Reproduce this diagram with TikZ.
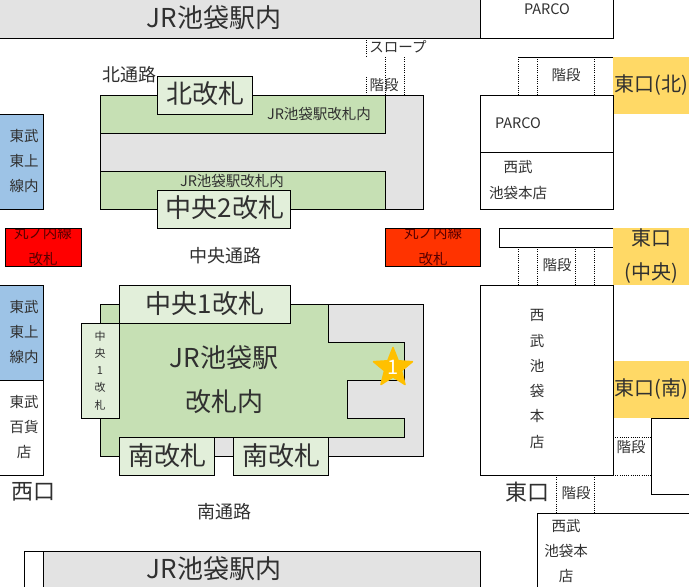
\documentclass[tikz,border=0pt]{standalone}
\usepackage{fontspec}
\setmainfont{Noto Sans CJK JP}
\usetikzlibrary{shapes.geometric}
\definecolor{gbg}{HTML}{E3E3E3}
\definecolor{grn}{HTML}{C6E0B4}
\definecolor{lgrn}{HTML}{E2EFDA}
\definecolor{blu}{HTML}{9DC3E6}
\definecolor{yel}{HTML}{FFD966}
\definecolor{txt}{HTML}{303030}
\definecolor{strc}{HTML}{FFC000}
\tikzset{
  x=1pt,y=-1pt,
  wall/.style={draw=black,line width=1pt},
  stair/.style={draw=black,line width=0.9pt,dash pattern=on 1pt off 1.2pt},
  lab/.style={inner sep=0pt,text=txt,align=center},
  big/.style={lab,font=\fontsize{26}{30}\selectfont},
  mid/.style={lab,font=\fontsize{20}{34}\selectfont},
  med/.style={lab,font=\fontsize{18}{22}\selectfont},
  small/.style={lab,font=\fontsize{14.5}{25.3}\selectfont},
  tiny/.style={lab,font=\fontsize{11}{17.3}\selectfont},
}
\begin{document}
\begin{tikzpicture}
\useasboundingbox (0,0) rectangle (689,587);
% top strip
\path[fill=gbg] (0,0) rectangle (480,38);
\draw[wall] (-2,38) -- (613,38) -- (613,-2) (480,-2) -- (480,38);
% yellow exits
\fill[yel] (613,57) rectangle (689,114);
\fill[yel] (613,228) rectangle (689,285);
\fill[yel] (613,361) rectangle (689,418);
% north station block
\draw[wall,fill=gbg] (100,95) rectangle (423,209);
\draw[wall,fill=grn] (100,95) rectangle (385,133);
\draw[wall,fill=grn] (100,171) rectangle (385,209);
% south station block
\draw[wall,fill=gbg] (100,304) rectangle (423,456);
\draw[wall,fill=grn] (100,304) -- (328,304) -- (328,342) -- (404,342) -- (404,380) -- (347,380) -- (347,418) -- (404,418) -- (404,437) -- (214,437) -- (214,456) -- (100,456) -- cycle;
% left blocks
\draw[wall,fill=blu] (-2,114) rectangle (43,209);
\draw[wall,fill=blu] (-2,285) rectangle (43,380);
\draw[wall] (-2,380) rectangle (43,475);
% gates
\draw[wall,fill=lgrn] (157,76) rectangle (252,114);
\draw[wall,fill=lgrn] (157,190) rectangle (290,228);
\draw[wall,fill=lgrn] (119,285) rectangle (290,323);
\draw[wall,fill=lgrn] (81,323) rectangle (119,418);
\draw[wall,fill=lgrn] (119,437) rectangle (214,475);
\draw[wall,fill=lgrn] (233,437) rectangle (328,475);
% right blocks
\draw[wall] (480,95) rectangle (613,152);
\draw[wall] (480,152) rectangle (613,209);
\draw[wall] (613,228) -- (499,228) -- (499,247) -- (613,247);
\draw[wall] (480,285) rectangle (613,475);
\draw[wall] (691,418) -- (651,418) -- (651,494) -- (691,494);
\draw[wall] (691,513) -- (537,513) -- (537,589);
\draw[wall] (518,57) -- (613,57);
% bottom strip
\fill[gbg] (43,551) rectangle (480,589);
\draw[wall] (24,589) -- (24,551) -- (480,551) -- (480,589) (43,551) -- (43,589);
% stairs
\draw[stair] (366,38) -- (366,57) (366,77) -- (366,95) (385,57) -- (385,95) (404,57) -- (404,95);
\draw[stair] (518,57) -- (518,95) (537,57) -- (537,95) (594,57) -- (594,95);
\draw[stair] (518,247) -- (518,285) (537,247) -- (537,285) (575,247) -- (575,285) (594,247) -- (594,285);
\draw[stair] (613,437) -- (651,437) (613,475) -- (651,475);
\draw[stair] (556.5,475) -- (556.5,513) (594,475) -- (594,513);
% red gates with clipped text
\begin{scope}
\clip (5,228) rectangle (81,266);
\fill[red] (5,228) rectangle (81,266);
\node[small,text=black!65!red] (rl) at (43,246) {丸ノ内線\\改札};
\end{scope}
\draw[wall] (5,228) rectangle (81,266);
\begin{scope}
\clip (385,228) rectangle (480,266);
\fill[fill={rgb,255:red,255;green,51;blue,0}] (385,228) rectangle (480,266);
\node[small,text=black!65!red] (rr) at (433,246) {丸ノ内線\\改札};
\end{scope}
\draw[wall] (385,228) rectangle (480,266);
% labels
\node[big] (t1) at (214,18) {JR池袋駅内};
\node[big] (t2) at (214,569) {JR池袋駅内};
\node[small] (pa) at (547,9) {PARCO};
\node[small] (sl) at (398,47) {スロープ};
\node[small] (k1) at (384,85) {階段};
\node[small] (k2) at (566,75) {階段};
\node[small] (k3) at (557,265) {階段};
\node[small] (k4) at (631,447) {階段};
\node[small] (k5) at (576,493) {階段};
\node[med] (nt) at (129,75) {北通路};
\node[med] (ct) at (225,256) {中央通路};
\node[med] (st) at (224,512) {南通路};
\node[big] (g1) at (205,94) {北改札};
\node[big] (g2) at (225,208) {中央2改札};
\node[big] (g3) at (205,304) {中央1改札};
\node[big] (g4) at (167,456) {南改札};
\node[big] (g5) at (281,456) {南改札};
\node[tiny] (g6) at (100,370.5) {中\\央\\1\\改\\札};
\node[small] (i1) at (319,114) {JR池袋駅改札内};
\node[small] (i2) at (232,181) {JR池袋駅改札内};
\node[big,font=\fontsize{26}{44}\selectfont] (i3) at (224,380) {JR池袋駅\\改札内};
\node[small] (b1) at (24,161) {東武\\東上\\線内};
\node[small] (b2) at (24,332) {東武\\東上\\線内};
\node[small] (b3) at (24,427) {東武\\百貨\\店};
\node[small] (p2) at (518,123) {PARCO};
\node[small] (s1) at (518,180) {西武\\池袋本店};
\node[small] (s2) at (537,379) {西\\武\\池\\袋\\本\\店};
\node[small] (s3) at (566,551) {西武\\池袋本\\店};
\node[mid] (e1) at (651,85) {東口(北)};
\node[mid] (e2) at (651,256) {東口\\(中央)};
\node[mid] (e3) at (651,389) {東口(南)};
\node[lab,font=\fontsize{22}{26}\selectfont] (e4) at (527,492) {東口};
\node[lab,font=\fontsize{22}{26}\selectfont] (w1) at (34,492) {西口};
% star marker
\node[star,star points=5,star point ratio=2.3,minimum size=41pt,inner sep=0pt,fill=strc,draw=strc,line width=1.5pt,line join=round] (mk) at (393,368) {};
\node[inner sep=0pt,text=white,font=\fontsize{20}{22}\selectfont] (mkn) at (393,367) {1};
\end{tikzpicture}
\end{document}
